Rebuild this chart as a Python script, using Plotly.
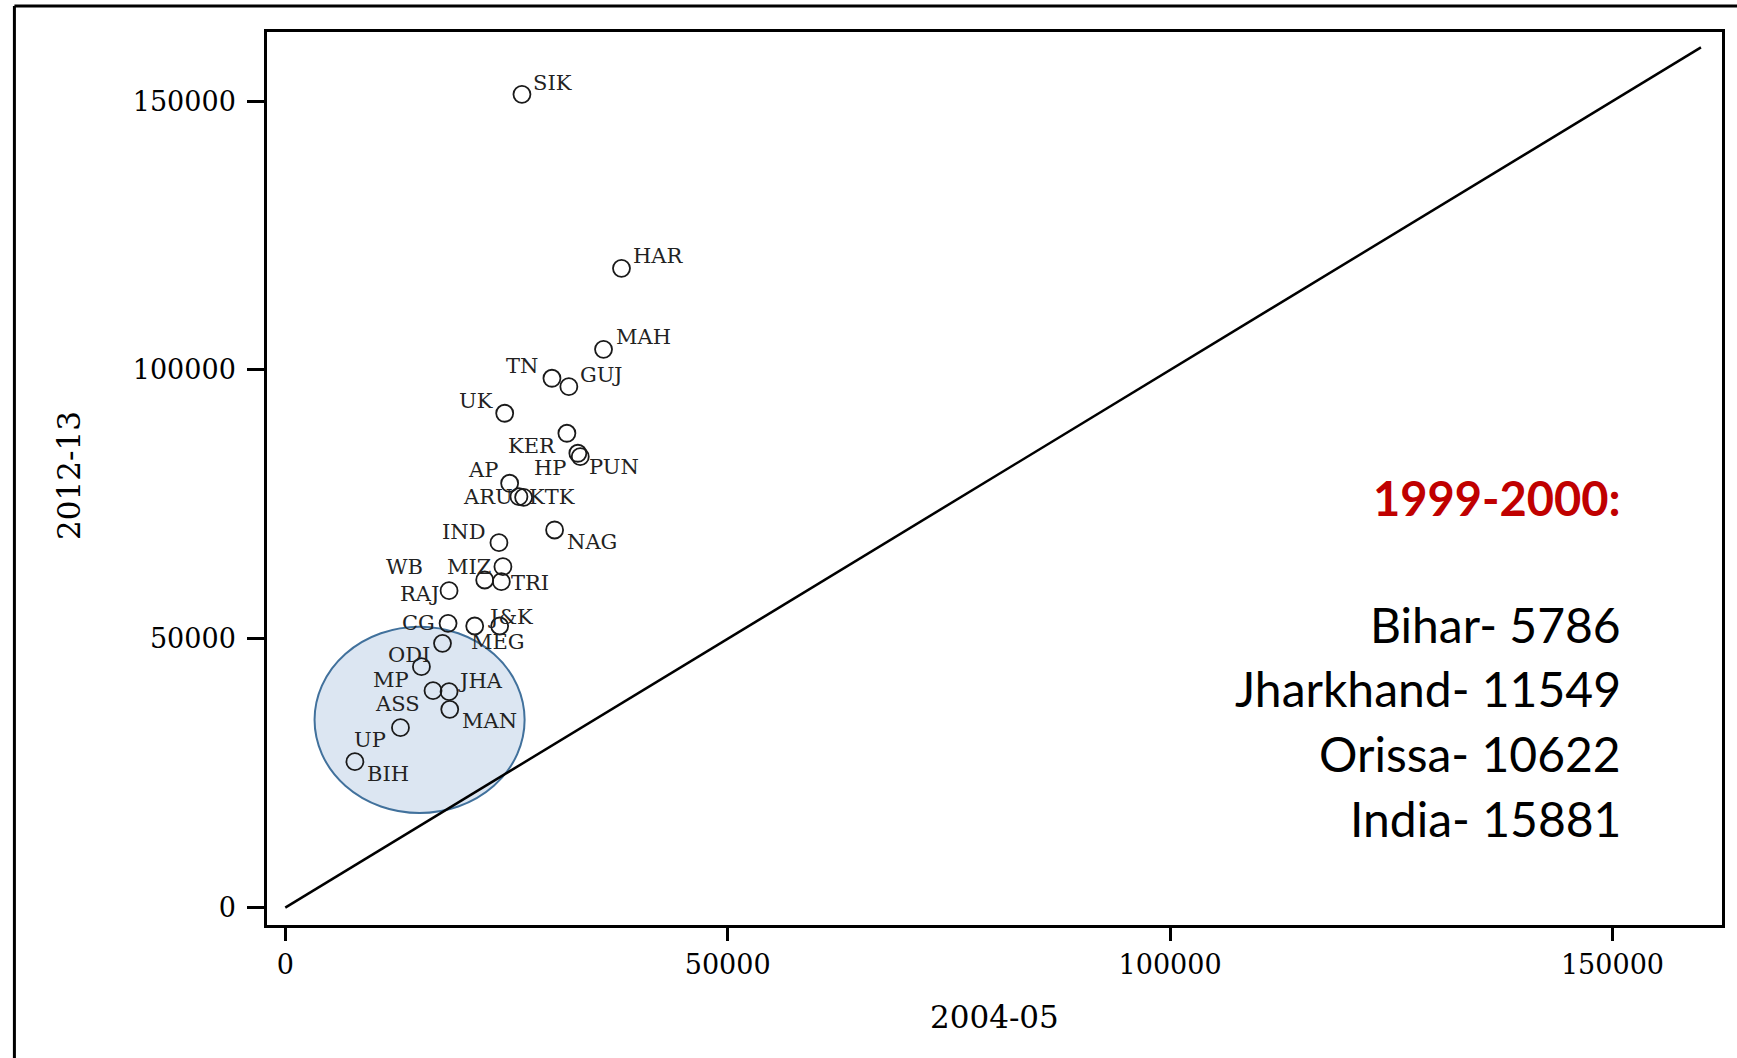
import plotly.graph_objects as go

# ---- data ----
states = ["SIK", "HAR", "MAH", "TN", "GUJ", "UK", "KER", "HP", "PUN", "AP",
          "ARU", "KTK", "IND", "NAG", "MIZ", "WB", "TRI", "RAJ", "CG", "J&K",
          "MEG", "ODI", "MP", "ASS", "JHA", "MAN", "UP", "BIH"]
nsdp_2004_05 = [26750, 38000, 35970, 30140, 32050, 24800, 31830, 33070, 33340, 25360,
                26410, 26940, 24150, 30440, 24600, 22540, 24420, 18510, 18400, 21410,
                24230, 17770, 15390, 16700, 18510, 18590, 13020, 7870]
nsdp_2012_13 = [151280, 118920, 103850, 98460, 96890, 91950, 88230, 84510, 83870, 78930,
                76430, 76320, 67880, 70240, 63410, 60940, 60620, 58950, 52880, 52380,
                52380, 49160, 44810, 40350, 40160, 36890, 33460, 27140]
diag_x = [0, 160000]
diag_y = [0, 160000]
x_ticks = [0, 50000, 100000, 150000]
y_ticks = [0, 50000, 100000, 150000]
note_title = "1999-2000:"
note_lines = ["Bihar- 5786", "Jharkhand- 11549", "Orissa- 10622", "India- 15881"]

# ---- label placement (anchor, xshift px, yshift px) ----
label_pos = {
    "SIK": ("left", 9, 11), "HAR": ("left", 10, 12), "MAH": ("left", 10, 12),
    "TN": ("right", -12, 12), "GUJ": ("left", 9, 12), "UK": ("right", -10, 12),
    "KER": ("right", -9, -13), "HP": ("right", -10, -15), "PUN": ("left", 7, -10),
    "AP": ("right", -10, 13), "ARU": ("right", -4, 0), "KTK": ("left", 3, 0),
    "IND": ("right", -11, 11), "NAG": ("left", 10, -12), "MIZ": ("right", -10, 0),
    "WB": ("right", -60, 13), "TRI": ("left", 8, -1), "RAJ": ("right", -8, -3),
    "CG": ("right", -11, 0), "J&K": ("left", 11, 9), "MEG": ("center", -2, -16),
    "ODI": ("right", -11, -12), "MP": ("right", -10, -13), "ASS": ("right", -11, -13),
    "JHA": ("left", 7, 11), "MAN": ("left", 10, -12), "UP": ("right", -12, -12),
    "BIH": ("left", 10, -12),
}

SERIF = "DejaVu Serif"

fig = go.Figure()

fig.add_trace(go.Scatter(
    x=diag_x, y=diag_y, mode="lines",
    line=dict(color="black", width=2.5), hoverinfo="skip", showlegend=False))

fig.add_trace(go.Scatter(
    x=nsdp_2004_05, y=nsdp_2012_13, mode="markers",
    marker=dict(symbol="circle-open", size=17, color="#1a1a1a", line=dict(width=1.8)),
    text=states, showlegend=False))

annotations = []
for s, xv, yv in zip(states, nsdp_2004_05, nsdp_2012_13):
    anc, dx, dy = label_pos[s]
    annotations.append(dict(
        x=xv, y=yv, xref="x", yref="y", text=s, showarrow=False,
        xanchor=anc, yanchor="middle", xshift=dx, yshift=dy,
        font=dict(family=SERIF, size=21, color="#222")))

# axis titles
annotations.append(dict(x=0.5, y=-0.103, xref="paper", yref="paper", text="2004-05",
                        showarrow=False, xanchor="center", yanchor="middle",
                        font=dict(family=SERIF, size=31, color="black")))
annotations.append(dict(x=-0.136, y=0.503, xref="paper", yref="paper", text="2012-13",
                        showarrow=False, xanchor="center", yanchor="middle", textangle=-90,
                        font=dict(family=SERIF, size=31, color="black")))

# note text on the right
annotations.append(dict(x=0.932, y=0.478, xref="paper", yref="paper", text="<b>" + note_title + "</b>",
                        showarrow=False, xanchor="right", yanchor="middle",
                        font=dict(family="Lato", size=47, color="#c00000")))
note_y = [0.337, 0.2643, 0.1925, 0.1196]
for t, yy in zip(note_lines, note_y):
    annotations.append(dict(x=0.932, y=yy, xref="paper", yref="paper", text=t,
                            showarrow=False, xanchor="right", yanchor="middle",
                            font=dict(family="Lato", size=48, color="black")))

shapes = [
    # highlighted cluster
    dict(type="circle", xref="x", yref="y", x0=3310, x1=27050, y0=17600, y1=52250,
         fillcolor="#dce6f2", line=dict(color="#41719c", width=2), layer="below"),
    # outer frame (top and left)
    dict(type="line", xref="paper", yref="paper", x0=-0.1736, x1=1.02, y0=1.0291, y1=1.0291,
         line=dict(color="black", width=3)),
    dict(type="line", xref="paper", yref="paper", x0=-0.1736, x1=-0.1736, y0=1.0291, y1=-0.2,
         line=dict(color="black", width=3)),
]

fig.update_layout(
    width=1737, height=1058,
    margin=dict(l=267, r=13, t=32, b=133),
    paper_bgcolor="white", plot_bgcolor="white",
    annotations=annotations, shapes=shapes,
    xaxis=dict(range=[-2065, 162380], tickvals=x_ticks, ticktext=[str(v) for v in x_ticks],
               showgrid=False, zeroline=False, showline=True, mirror=True,
               linecolor="black", linewidth=2.5, ticks="outside", ticklen=13, tickwidth=2.5,
               tickcolor="black", ticklabelstandoff=1,
               tickfont=dict(family=SERIF, size=27, color="black")),
    yaxis=dict(range=[-3237, 162870], tickvals=y_ticks, ticktext=[str(v) for v in y_ticks],
               showgrid=False, zeroline=False, showline=True, mirror=True,
               linecolor="black", linewidth=2.5, ticks="outside", ticklen=17, tickwidth=2.5,
               tickcolor="black", ticklabelstandoff=6,
               tickfont=dict(family=SERIF, size=27, color="black")),
)

# remove the browser's default 8px body margin so the figure fills the window exactly
fig.write_html("out.html",
               config={"displayModeBar": False},
               post_script="document.body.style.margin='0';document.body.style.overflow='hidden';")
